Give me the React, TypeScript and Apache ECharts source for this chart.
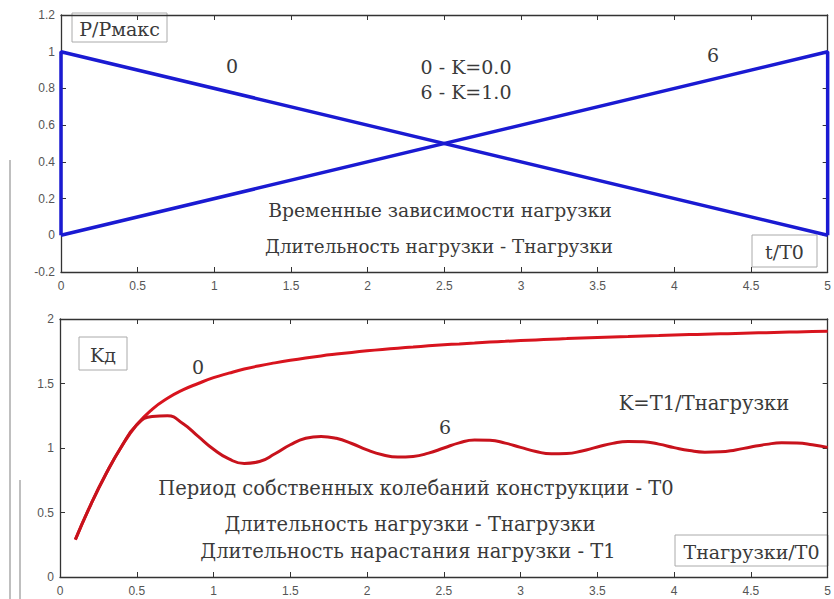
import React, { useEffect, useRef } from "react";
import * as echarts from "echarts";

// Top chart: load time histories (P/Pmax vs t/T0)
const load0 = [[0, 0], [0, 1], [5, 0]]; // K = 0.0
const load6 = [[0, 0], [5, 1], [5, 0]]; // K = 1.0

// Bottom chart: dynamic factor Kd vs Tload/T0
const kdX = [
  0.1, 0.2, 0.3, 0.4, 0.5, 0.6, 0.7, 0.8, 0.9, 1.0,
  1.1, 1.2, 1.3, 1.4, 1.5, 1.6, 1.7, 1.8, 1.9, 2.0,
  2.1, 2.2, 2.3, 2.4, 2.5, 2.6, 2.7, 2.8, 2.9, 3.0,
  3.1, 3.2, 3.3, 3.4, 3.5, 3.6, 3.7, 3.8, 3.9, 4.0,
  4.1, 4.2, 4.3, 4.4, 4.5, 4.6, 4.7, 4.8, 4.9, 5.0,
];
const kd0 = [
  0.29, 0.56, 0.80, 1.01, 1.18, 1.30, 1.385, 1.45, 1.50, 1.545,
  1.58, 1.612, 1.638, 1.66, 1.68, 1.698, 1.714, 1.728, 1.741, 1.753,
  1.764, 1.774, 1.783, 1.792, 1.80, 1.807, 1.814, 1.821, 1.827, 1.833,
  1.838, 1.843, 1.848, 1.853, 1.857, 1.861, 1.865, 1.869, 1.872, 1.876,
  1.879, 1.882, 1.885, 1.888, 1.891, 1.894, 1.897, 1.90, 1.903, 1.906,
];
const kd6 = [
  0.29, 0.56, 0.80, 1.01, 1.18, 1.245, 1.25, 1.19, 1.09, 0.99,
  0.915, 0.88, 0.895, 0.955, 1.025, 1.075, 1.09, 1.075, 1.035, 0.985,
  0.948, 0.93, 0.935, 0.96, 1.00, 1.04, 1.062, 1.06, 1.038, 1.005,
  0.973, 0.955, 0.957, 0.977, 1.008, 1.036, 1.05, 1.048, 1.03, 1.003,
  0.98, 0.968, 0.97, 0.985, 1.008, 1.028, 1.04, 1.038, 1.025, 1.005,
];

const topYTicks = { min: -0.2, max: 1.2, interval: 0.2 };
const botYTicks = { min: 0, max: 2, interval: 0.5 };
const xTicks = { min: 0, max: 5, interval: 0.5 };

const SERIF = "DejaVu Serif";
const SANS = "Liberation Sans";

export default function App() {
  const ref = useRef<HTMLDivElement>(null);
  useEffect(() => {
    if (!ref.current) return;
    const chart = echarts.init(ref.current, null, { renderer: "svg" });
    const axisLine = { show: true, onZero: false, lineStyle: { color: "#333", width: 1.3 } };
    const tick = { show: true, inside: true, length: 5, lineStyle: { color: "#333", width: 1 } };
    const lbl = { color: "#555", fontFamily: SANS, fontSize: 12 };
    const xMain = (gi: number) => ({
      type: "value", gridIndex: gi, position: "bottom", ...xTicks,
      axisLine, axisTick: tick, splitLine: { show: false },
      axisLabel: { ...lbl, margin: 8 },
    });
    const xTop = (gi: number) => ({
      type: "value", gridIndex: gi, position: "top", ...xTicks,
      axisLine, axisTick: tick, splitLine: { show: false }, axisLabel: { show: false },
    });
    const yMain = (gi: number, t: any) => ({
      type: "value", gridIndex: gi, position: "left", ...t,
      axisLine, axisTick: tick, splitLine: { show: false },
      axisLabel: { ...lbl, margin: 6 },
    });
    const yRight = (gi: number, t: any) => ({
      type: "value", gridIndex: gi, position: "right", ...t,
      axisLine, axisTick: tick, splitLine: { show: false }, axisLabel: { show: false },
    });
    const txt = (x: number, y: number, s: string, size = 18.5) => ({
      type: "text", x, y, z: 10,
      style: { text: s, fill: "#3a3a3a", fontFamily: SERIF, fontSize: size, align: "center", verticalAlign: "middle" },
    });
    const box = (x: number, y: number, w: number, h: number, s: string, size = 19) => ({
      type: "group", z: 9,
      children: [
        { type: "rect", shape: { x, y, width: w, height: h }, style: { fill: "#fff", stroke: "#aaa", lineWidth: 1 } },
        { type: "text", x: x + w / 2, y: y + h / 2 + 1,
          style: { text: s, fill: "#3a3a3a", fontFamily: SERIF, fontSize: size, align: "center", verticalAlign: "middle" } },
      ],
    });
    chart.setOption({
      animation: false,
      backgroundColor: "#fff",
      grid: [
        { left: 61, top: 15, width: 772, height: 257 },
        { left: 60, top: 319, width: 773, height: 258 },
      ],
      xAxis: [xMain(0), xTop(0), xMain(1), xTop(1)],
      yAxis: [yMain(0, topYTicks), yRight(0, topYTicks), yMain(1, botYTicks), yRight(1, botYTicks)],
      series: [
        { type: "line", name: "0", xAxisIndex: 0, yAxisIndex: 0, data: load0, showSymbol: false, clip: false,
          lineStyle: { color: "#1a1ad2", width: 3.5 } },
        { type: "line", name: "6", xAxisIndex: 0, yAxisIndex: 0, data: load6, showSymbol: false, clip: false,
          lineStyle: { color: "#1a1ad2", width: 3.5 } },
        { type: "line", name: "Kd0", xAxisIndex: 2, yAxisIndex: 2, data: kdX.map((x, i) => [x, kd0[i]]),
          showSymbol: false, smooth: 0.5, lineStyle: { color: "#d8141e", width: 3 } },
        { type: "line", name: "Kd6", xAxisIndex: 2, yAxisIndex: 2, data: kdX.map((x, i) => [x, kd6[i]]),
          showSymbol: false, smooth: 0.5, lineStyle: { color: "#c8121c", width: 3 } },
      ],
      graphic: [
        { type: "line", shape: { x1: 10, y1: 160, x2: 10, y2: 599 }, style: { stroke: "#aaa", lineWidth: 1.5 } },
        { type: "line", shape: { x1: 20, y1: 480, x2: 20, y2: 599 }, style: { stroke: "#aaa", lineWidth: 1.5 } },
        box(72, 13, 95, 29, "P/Pмакс", 19),
        box(752, 235, 65, 32, "t/T0", 19),
        box(79, 337, 48, 33, "Kд", 19),
        box(675, 535, 153, 31, "Tнагрузки/T0", 19),
        txt(232, 66, "0", 19),
        txt(713, 55, "6", 19),
        txt(466, 67, "0 - K=0.0", 19),
        txt(466, 92, "6 - K=1.0", 19),
        txt(440, 210, "Временные зависимости нагрузки", 18.8),
        txt(439, 246, "Длительность нагрузки - Tнагрузки", 18.3),
        txt(198, 367, "0", 19),
        txt(445, 427, "6", 19),
        txt(704, 403, "K=T1/Tнагрузки", 19.5),
        txt(416, 488, "Период собственных колебаний конструкции - T0", 19.5),
        txt(410, 524, "Длительность нагрузки - Tнагрузки", 19.5),
        txt(408, 551, "Длительность нарастания нагрузки - T1", 19.5),
      ],
    });
    return () => chart.dispose();
  }, []);
  return (
    <div
      ref={ref}
      style={{ position: "fixed", left: 0, top: 0, width: 834, height: 599, background: "#fff" }}
    />
  );
}
